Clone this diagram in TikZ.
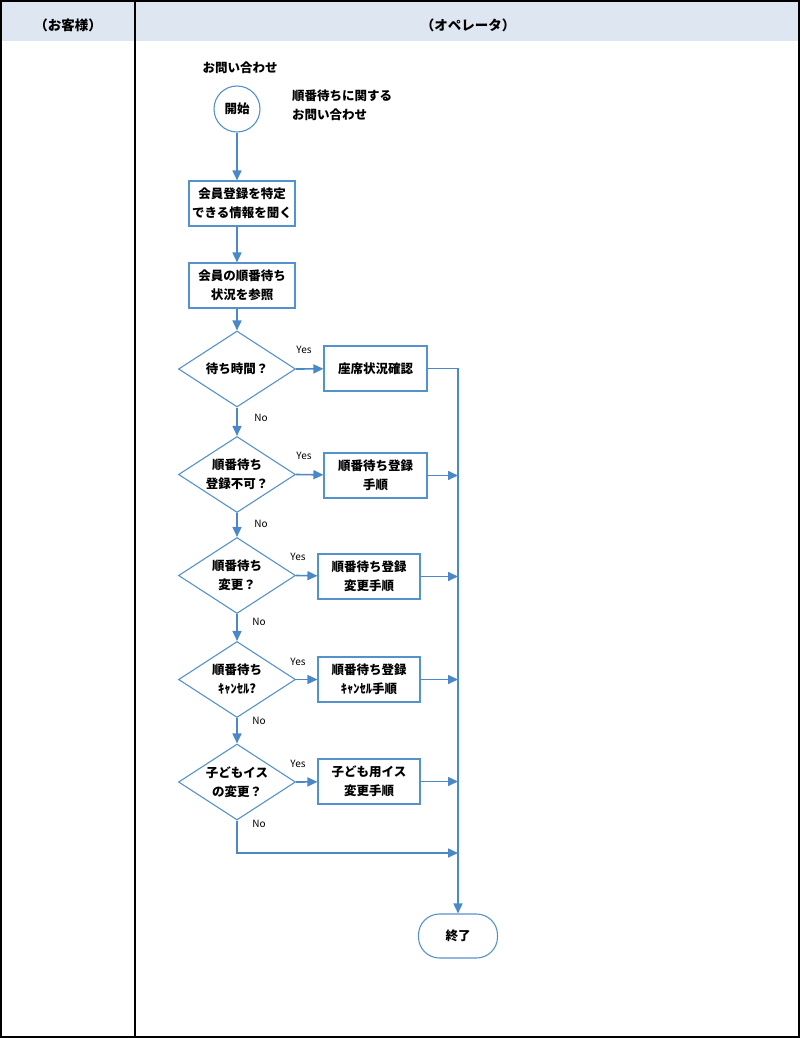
\documentclass[tikz,border=0pt]{standalone}
\usepackage{fontspec}
\setmainfont{Noto Sans CJK JP}
\usetikzlibrary{shapes.geometric,arrows.meta}
\definecolor{ln}{RGB}{74,136,200}
\definecolor{bd}{RGB}{84,146,206}
\definecolor{hd}{RGB}{222,231,241}
\tikzset{
  box/.style={draw=bd, line width=1.1pt, fill=white, minimum width=#1, minimum height=45pt, inner sep=0pt, align=center},
  box/.default=103pt,
  dia/.style={draw=bd, line width=1.1pt, shape=diamond, minimum width=117pt, minimum height=76pt, inner sep=0pt},
  txt/.style={align=center, inner sep=0pt},
  yn/.style={font=\fontsize{10}{12}\selectfont, inner sep=0pt},
  conn/.style={draw=ln, line width=1.6pt},
  arr/.style={conn, -{Triangle[length=10pt,width=9pt]}},
}
\begin{document}
\begin{tikzpicture}[x=1pt,y=-1pt, font=\bfseries\fontsize{12.5}{19}\selectfont]
\useasboundingbox (0,0) rectangle (800,1038);
\fill[hd] (1,1) rectangle (799,41);
\draw[black, line width=1.5pt] (1,1) rectangle (799,1037);
\draw[black, line width=1.5pt] (135,1) -- (135,1037);
\node[txt, font=\bfseries\fontsize{13.5}{15}\selectfont] (h1) at (68,25) {（お客様）};
\node[txt, font=\bfseries\fontsize{13.5}{15}\selectfont] (h2) at (468,25) {（オペレータ）};

\node[txt] (q) at (240,68) {お問い合わせ};
\node[draw=bd, line width=1.1pt, circle, minimum size=46pt, inner sep=0pt] (s) at (237,109) {開始};
\node[txt, align=left, anchor=west] (qt) at (292,105) {順番待ちに関する\\お問い合わせ};

\node[box=106pt] (b1) at (242,203.5) {会員登録を特定\\できる情報を聞く};
\node[box=106pt] (b2) at (242,285.5) {会員の順番待ち\\状況を参照};

\node[dia] (d1) at (237,369) {};
\node[txt] (d1t) at (d1) {待ち時間？};
\node[box] (y1) at (375.5,368.5) {座席状況確認};

\node[dia] (d2) at (237,474.5) {};
\node[txt] (d2t) at (d2) {順番待ち\\登録不可？};
\node[box] (y2) at (375.5,475.5) {順番待ち登録\\手順};

\node[dia] (d3) at (237,575.5) {};
\node[txt] (d3t) at (d3) {順番待ち\\変更？};
\node[box=102pt] (y3) at (369,576.5) {順番待ち登録\\変更手順};

\node[dia] (d4) at (237,679.5) {};
\node[txt] (d4t) at (d4) {順番待ち\\ｷｬﾝｾﾙ?};
\node[box=102pt] (y4) at (369,679.5) {順番待ち登録\\ｷｬﾝｾﾙ手順};

\node[dia] (d5) at (237,782) {};
\node[txt] (d5t) at (d5) {子どもイス\\の変更？};
\node[box=102pt] (y5) at (369,781.5) {子ども用イス\\変更手順};

\node[draw=bd, line width=1.1pt, rounded corners=21pt, minimum width=79pt, minimum height=44pt, inner sep=0pt] (e) at (458,936) {終了};

% labels
\node[yn] (l1) at (304,350) {Yes};
\node[yn] (l2) at (304,456) {Yes};
\node[yn] (l3) at (298,557) {Yes};
\node[yn] (l4) at (298,662) {Yes};
\node[yn] (l5) at (298,764) {Yes};
\node[yn] (n1) at (261,418) {No};
\node[yn] (n2) at (261,524) {No};
\node[yn] (n3) at (259,622) {No};
\node[yn] (n4) at (259,721) {No};
\node[yn] (n5) at (259,824) {No};

% connectors
\draw[arr] (s.south) -- (s.south |- b1.north);
\draw[arr] (s.south |- b1.south) -- (s.south |- b2.north);
\draw[arr] (s.south |- b2.south) -- (d1.north);
\draw[arr] (d1) -- (d2);
\draw[arr] (d2) -- (d3);
\draw[arr] (d3) -- (d4);
\draw[arr] (d4) -- (d5);
\draw[arr] (d1.east) -- (y1);
\draw[arr] (d2.east) -- (y2);
\draw[arr] (d3.east) -- (y3);
\draw[arr] (d4.east) -- (y4);
\draw[arr] (d5.east) -- (y5);

\coordinate (m2) at (458,475.5);
\coordinate (m3) at (458,576.5);
\coordinate (m4) at (458,679.5);
\coordinate (m5) at (458,781.5);
\coordinate (m6) at (458,853);
\coordinate (c6) at (237,853);
\coordinate (t1) at (458,368.5);

\draw[arr] (y1.east) -- (t1) -- (e.north);
\draw[arr] (y2.east) -- (m2);
\draw[arr] (y3.east) -- (m3);
\draw[arr] (y4.east) -- (m4);
\draw[arr] (y5.east) -- (m5);
\draw[arr] (d5.south) -- (c6) -- (m6);
\end{tikzpicture}
\end{document}
